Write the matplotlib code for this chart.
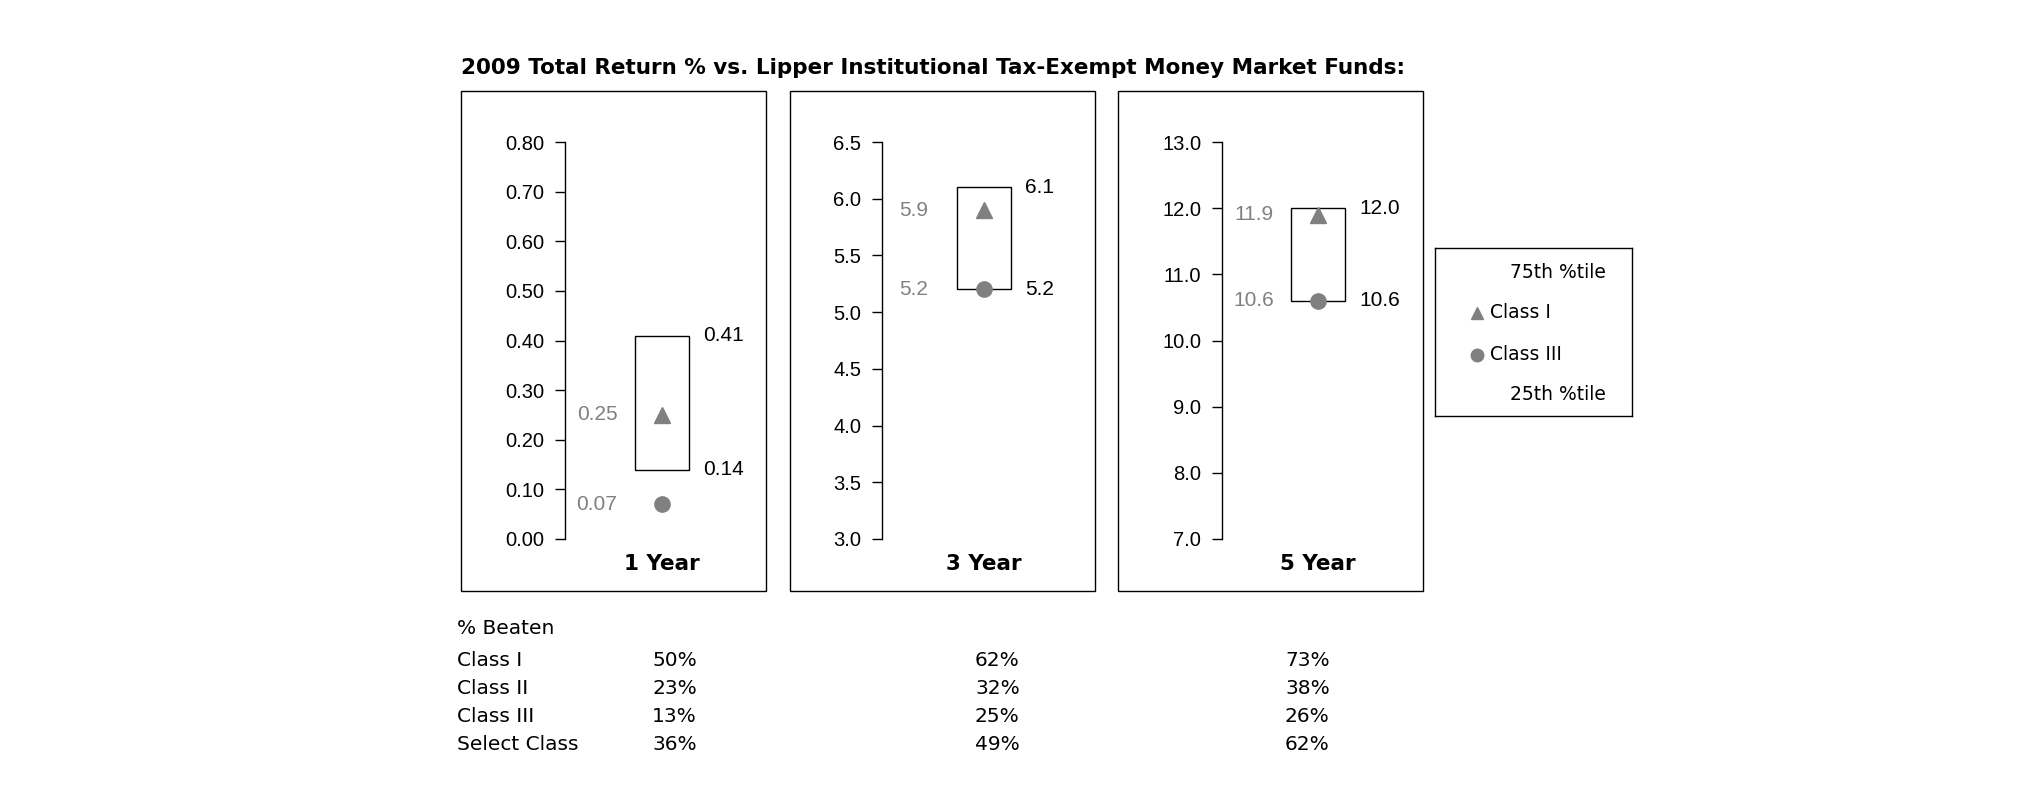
import matplotlib
matplotlib.use("Agg")
import numpy as np
import matplotlib.pyplot as plt
from matplotlib.patches import Rectangle

# chart values
periods = ["1 Year", "3 Year", "5 Year"]
pct_75 = [0.41, 6.1, 12.0]
pct_25 = [0.14, 5.2, 10.6]
class_i = [0.25, 5.9, 11.9]
class_iii = [0.07, 5.2, 10.6]
y_min = [0.0, 3.0, 7.0]
y_max = [0.80, 6.5, 13.0]
y_step = [0.10, 0.5, 1.0]
decimals = [2, 1, 1]

beaten_rows = ["Class I", "Class II", "Class III", "Select Class"]
beaten_1y = [50, 23, 13, 36]
beaten_3y = [62, 32, 25, 49]
beaten_5y = [73, 38, 26, 62]

title = "2009 Total Return % vs. Lipper Institutional Tax-Exempt Money Market Funds:"
legend_labels = ["75th %tile", "Class I", "Class III", "25th %tile"]

W, H = 2025, 806
GRAY = "#808080"


def fx(x):
    return x / W


def fy(y):
    return 1 - y / H


def draw_panel(fig, i, frame_left, spine_x, box_x):
    """One framed panel: left axis, the 25-75 box and the two class markers."""
    fig.add_artist(Rectangle((fx(frame_left), fy(591)), fx(305), 500 / H,
                             transform=fig.transFigure, fill=False,
                             edgecolor="black", linewidth=1))
    ax = fig.add_axes([fx(spine_x), fy(539), fx(200), 397 / H])
    ax.set_xlim(0, 1)
    ax.set_ylim(y_min[i], y_max[i])
    ax.patch.set_visible(False)
    for s in ["top", "right", "bottom"]:
        ax.spines[s].set_visible(False)
    ax.spines["left"].set_linewidth(1)
    ax.set_xticks([])
    ticks = np.arange(y_min[i], y_max[i] + y_step[i] / 2, y_step[i])
    ax.set_yticks(ticks)
    ax.set_yticklabels([f"{t:.{decimals[i]}f}" for t in ticks],
                       fontfamily="Liberation Sans", fontsize=14.5)
    ax.tick_params(axis="y", length=7, width=1, pad=8)

    width = 0.27
    ax.bar([box_x], [pct_75[i] - pct_25[i]], bottom=[pct_25[i]], width=width,
           fill=False, edgecolor="black", linewidth=1)
    ax.plot([box_x], [class_i[i]], marker="^", markersize=11, color=GRAY,
            linestyle="none")
    ax.plot([box_x], [class_iii[i]], marker="o", markersize=11, color=GRAY,
            linestyle="none")

    fmt = f"{{:.{decimals[i]}f}}"
    right = box_x + width / 2
    for v in (pct_75[i], pct_25[i]):
        ax.annotate(fmt.format(v), xy=(right, v), xytext=(10, 0),
                    textcoords="offset points", ha="left", va="center",
                    fontfamily="Liberation Sans", fontsize=15, color="black")
    for v in (class_i[i], class_iii[i]):
        ax.text(0.16, v, fmt.format(v), ha="center", va="center",
                fontfamily="Liberation Sans", fontsize=15, color=GRAY)

    ax.text(box_x, -0.063, periods[i], transform=ax.get_xaxis_transform(),
            ha="center", va="center", fontsize=15.5, fontweight="bold")
    return ax


def draw_legend(fig):
    """Hand-drawn legend box on the right."""
    lax = fig.add_axes([fx(1435), fy(416), fx(197), 168 / H])
    lax.set_xlim(1435, 1632)
    lax.set_ylim(416, 248)
    lax.set_xticks([])
    lax.set_yticks([])
    for s in lax.spines.values():
        s.set_linewidth(1)
    rows_y = [272, 313, 355, 395]
    markers = [None, "^", "o", None]
    for y, lab, m in zip(rows_y, legend_labels, markers):
        if m is not None:
            lax.plot([1477], [y], marker=m, markersize=9, color=GRAY,
                     linestyle="none")
            lax.text(1490, y, lab, ha="left", va="center", fontsize=13.5)
        else:
            lax.text(1510, y, lab, ha="left", va="center", fontsize=13.5)


def draw_table(fig):
    """The % Beaten block below the panels."""
    fig.text(fx(457), fy(629), "% Beaten", ha="left", va="center",
             fontsize=14.5)
    rows_y = [661, 688, 717, 745]
    cols_x = [652, 975, 1285]
    for j, lab in enumerate(beaten_rows):
        fig.text(fx(457), fy(rows_y[j]), lab, ha="left", va="center",
                 fontsize=14.5)
        for x, col in zip(cols_x, [beaten_1y, beaten_3y, beaten_5y]):
            fig.text(fx(x), fy(rows_y[j]), f"{col[j]}%", ha="left",
                     va="center", fontsize=14.5)


def main():
    plt.rcParams["font.family"] = ["DejaVu Sans"]
    fig = plt.figure(figsize=(W / 100, H / 100), dpi=100)
    fig.patch.set_facecolor("white")

    fig.text(fx(461), fy(68), title, ha="left", va="center", fontsize=15.5,
             fontweight="bold")

    frame_lefts = [461, 790, 1118]
    spine_xs = [565, 882, 1222]
    box_xs = [0.485, 0.51, 0.48]
    for i in range(3):
        draw_panel(fig, i, frame_lefts[i], spine_xs[i], box_xs[i])

    draw_legend(fig)
    draw_table(fig)

    fig.savefig("out.png", dpi=100, facecolor="white")
    print("Wrote out.png")


if __name__ == "__main__":
    main()
